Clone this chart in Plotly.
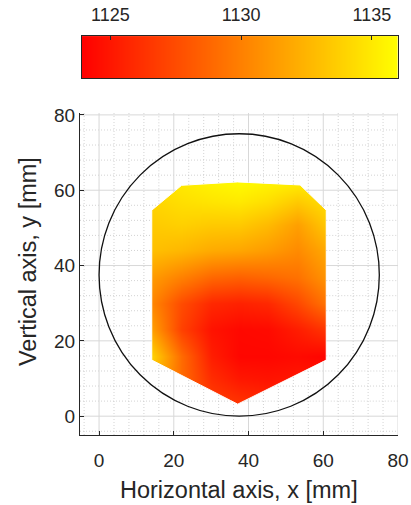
import plotly.graph_objects as go

# ---------------- data ----------------
grid_x = [14, 22, 30, 37.5, 45, 53, 61]
grid_y = [3, 10, 16, 23, 30, 37, 44, 51, 57, 62]
# values (rows follow grid_y, columns follow grid_x)
row_y03 = [1130.0, 1128.5, 1127.0, 1126.5, 1126.0, 1126.0, 1126.0]
row_y10 = [1133.0, 1129.0, 1126.0, 1125.0, 1124.8, 1125.0, 1125.0]
row_y16 = [1134.0, 1129.0, 1125.3, 1124.2, 1124.2, 1124.4, 1124.1]
row_y23 = [1131.5, 1127.0, 1124.8, 1124.3, 1124.4, 1125.3, 1126.5]
row_y30 = [1130.3, 1127.5, 1125.8, 1125.5, 1125.8, 1127.3, 1129.5]
row_y37 = [1131.3, 1130.0, 1128.8, 1128.5, 1128.8, 1129.3, 1131.0]
row_y44 = [1133.0, 1132.6, 1132.0, 1131.8, 1131.3, 1130.5, 1132.0]
row_y51 = [1133.5, 1133.8, 1133.5, 1133.5, 1132.8, 1131.5, 1133.5]
row_y57 = [1134.0, 1134.5, 1134.8, 1135.0, 1134.5, 1133.5, 1134.5]
row_y62 = [1134.5, 1135.0, 1135.5, 1135.8, 1135.5, 1135.2, 1135.0]
values = [row_y03, row_y10, row_y16, row_y23, row_y30,
          row_y37, row_y44, row_y51, row_y57, row_y62]

# outline of the measured region
region_x = [14.1, 22.1, 37.0, 53.8, 60.8, 60.8, 37.1, 14.1]
region_y = [54.7, 61.3, 62.2, 61.4, 54.7, 14.9, 3.2, 14.9]

circle_cx, circle_cy, circle_r = 37.5, 37.5, 37.5

axis_ticks = [0, 20, 40, 60, 80]
minor_ticks = [v for v in range(-4, 81, 4) if v % 20 != 0]
cbar_ticks = [1125, 1130, 1135]
c_min, c_max = 1123.9, 1136.0

x_range = [-5.1, 80]
y_range = [-5.0, 80.5]

FONT = "Liberation Sans, Arial, Helvetica, sans-serif"
TXT = "#262626"
SCALE = [[0, "rgb(255,0,0)"], [1, "rgb(255,255,0)"]]

# ---------------- helpers ----------------
def crossing(c, vertical):
    hits = []
    n = len(region_x)
    for i in range(n):
        j = (i + 1) % n
        if vertical:
            a0, a1, b0, b1 = region_x[i], region_x[j], region_y[i], region_y[j]
        else:
            a0, a1, b0, b1 = region_y[i], region_y[j], region_x[i], region_x[j]
        if a0 == a1:
            continue
        if min(a0, a1) <= c <= max(a0, a1):
            t = (c - a0) / (a1 - a0)
            hits.append(b0 + t * (b1 - b0))
    return (min(hits), max(hits)) if hits else None


def grid_segments(vals):
    xs, ys = [], []
    for c in vals:
        s = crossing(c, True)
        pieces = [(y_range[0], y_range[1])] if s is None else [(y_range[0], s[0]), (s[1], y_range[1])]
        for a, b in pieces:
            xs += [c, c, None]
            ys += [a, b, None]
        s = crossing(c, False)
        pieces = [(x_range[0], x_range[1])] if s is None else [(x_range[0], s[0]), (s[1], x_range[1])]
        for a, b in pieces:
            xs += [a, b, None]
            ys += [c, c, None]
    return xs, ys


fig = go.Figure()

fig.add_trace(go.Heatmap(
    x=grid_x, y=grid_y, z=values,
    zsmooth="best", zmin=c_min, zmax=c_max,
    colorscale=SCALE, showscale=False, hoverinfo="skip",
))

# white mask around the measured region (outer box with a slit-in hole)
bx0, bx1, by0, by1 = 8, 68, -2, 68
mx = [bx0, bx0, bx1, bx1, bx0, bx0, region_x[0]] + \
     [region_x[0], region_x[7], region_x[6], region_x[5], region_x[4],
      region_x[3], region_x[2], region_x[1], region_x[0]] + [bx0]
my = [region_y[0], by1, by1, by0, by0, region_y[0], region_y[0]] + \
     [region_y[0], region_y[7], region_y[6], region_y[5], region_y[4],
      region_y[3], region_y[2], region_y[1], region_y[0]] + [region_y[0]]
fig.add_trace(go.Scatter(x=mx, y=my, mode="lines", fill="toself",
                         fillcolor="white", line=dict(color="white", width=1),
                         hoverinfo="skip", showlegend=False))

# grid lines (drawn outside the coloured region only)
mxs, mys = grid_segments(minor_ticks)
fig.add_trace(go.Scatter(x=mxs, y=mys, mode="lines",
                         line=dict(color="#c8c8c8", width=0.8, dash="1px,2px"),
                         hoverinfo="skip", showlegend=False))
Mxs, Mys = grid_segments(axis_ticks)
fig.add_trace(go.Scatter(x=Mxs, y=Mys, mode="lines",
                         line=dict(color="#d8d8d8", width=1),
                         hoverinfo="skip", showlegend=False))

fig.add_shape(type="circle", xref="x", yref="y",
              x0=circle_cx - circle_r, x1=circle_cx + circle_r,
              y0=circle_cy - circle_r, y1=circle_cy + circle_r,
              line=dict(color="#111111", width=1.3))

# colour bar drawn as its own small axis at the top
fig.add_trace(go.Heatmap(
    x=[c_min, c_max], y=[0, 1], z=[[c_min, c_max], [c_min, c_max]],
    zsmooth="best", zmin=c_min, zmax=c_max, colorscale=SCALE,
    showscale=False, hoverinfo="skip", xaxis="x2", yaxis="y2",
))

axis_common = dict(
    showgrid=False, zeroline=False, showline=True, linecolor=TXT, linewidth=1,
    ticks="inside", ticklen=4, tickcolor=TXT, tickvals=axis_ticks,
    tickfont=dict(family=FONT, size=19, color=TXT), mirror=False,
    automargin=False,
)

fig.update_layout(
    width=411, height=505,
    margin=dict(l=80, r=13, t=30, b=70, autoexpand=False),
    paper_bgcolor="white", plot_bgcolor="white",
    showlegend=False,
    xaxis=dict(range=x_range, domain=[0, 1], anchor="y",
               ticklabelstandoff=8, **axis_common),
    yaxis=dict(range=y_range, domain=[0, 0.795], anchor="x",
               ticklabelstandoff=0, **axis_common),
    xaxis2=dict(range=[c_min, c_max], domain=[0.005, 1], anchor="y2", side="top",
                tickvals=cbar_ticks, ticks="inside", ticklen=4, tickcolor=TXT,
                tickfont=dict(family=FONT, size=18, color=TXT),
                showline=True, mirror=True, linecolor=TXT, linewidth=1,
                showgrid=False, zeroline=False, ticklabelstandoff=7,
                automargin=False),
    yaxis2=dict(range=[0, 1], domain=[0.8815, 0.985], anchor="x2",
                showticklabels=False, ticks="", showline=True, mirror=True,
                linecolor=TXT, linewidth=1, showgrid=False, zeroline=False,
                automargin=False),
    annotations=[
        dict(text="Horizontal axis, x [mm]", xref="paper", yref="paper",
             x=0.5, y=-0.1358, xanchor="center", yanchor="middle",
             showarrow=False, font=dict(family=FONT, size=23.5, color=TXT)),
        dict(text="Vertical axis, y [mm]", xref="paper", yref="paper",
             x=-0.1635, y=0.427, xanchor="center", yanchor="middle", textangle=-90,
             showarrow=False, font=dict(family=FONT, size=23.5, color=TXT)),
    ],
)

fig.write_html("out.html")
